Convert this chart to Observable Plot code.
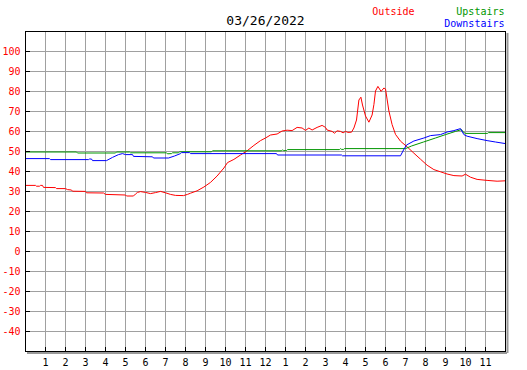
<!DOCTYPE html>
<html>
<head>
<meta charset="utf-8">
<script src="https://cdn.jsdelivr.net/npm/d3@7"></script>
<script src="https://cdn.jsdelivr.net/npm/@observablehq/plot@0.6"></script>
<style>
  html, body { margin: 0; padding: 0; background: #fff; }
</style>
</head>
<body>
<div id="chart"></div>
<script>
const title = "03/26/2022";
const seriesNames = ["Outside", "Upstairs", "Downstairs"];
const seriesColors = ["#ff0000", "#009600", "#0000ff"];

const hourTicks = [1,2,3,4,5,6,7,8,9,10,11,12,13,14,15,16,17,18,19,20,21,22,23];
const hourLabels = ["1","2","3","4","5","6","7","8","9","10","11","12","1","2","3","4","5","6","7","8","9","10","11"];
const tempTicks = [-40,-30,-20,-10,0,10,20,30,40,50,60,70,80,90,100];

const outsideHours = [0,0.5,0.55,0.7,0.75,0.85,0.9,1.5,1.55,2.0,2.1,2.3,2.35,3.0,3.05,3.9,4.0,5.0,5.05,5.4,5.5,5.6,5.75,6.0,6.25,6.5,6.75,7.0,7.25,7.5,7.9,8.1,8.25,8.58,8.92,9.25,9.58,9.92,10.1,10.42,10.75,11.08,11.42,11.75,12.0,12.25,12.58,12.83,13.08,13.33,13.58,13.83,14.0,14.17,14.33,14.58,14.83,15.0,15.08,15.33,15.45,15.58,15.75,15.88,16.0,16.12,16.3,16.42,16.55,16.67,16.77,16.85,17.0,17.17,17.33,17.42,17.5,17.62,17.78,17.92,18.0,18.1,18.17,18.33,18.5,18.75,19.08,19.42,19.75,20.08,20.42,20.75,21.08,21.42,21.83,22.0,22.25,22.58,23.08,23.58,24.0];
const outsideTemps = [33.3,33.3,32.9,32.9,33.3,33.3,32.3,32.2,31.7,31.7,31.2,31.0,30.4,30.3,29.6,29.5,28.8,28.5,28.0,28.0,29.0,29.8,30.2,29.8,29.2,29.7,30.3,29.6,28.8,28.3,28.2,28.8,29.4,30.6,32.5,34.8,38.0,42.0,44.7,46.3,48.5,50.6,53.3,55.7,57.0,58.5,59.0,60.5,60.9,60.7,62.3,62.0,60.8,62.0,61.0,62.3,63.3,62.3,61.0,60.3,59.4,60.6,60.3,59.6,60.3,59.8,59.9,62.0,66.0,76.0,77.4,73.5,68.0,64.9,68.5,73.7,80.5,82.8,80.3,82.0,81.5,75.0,70.5,63.7,58.8,55.4,52.6,49.4,46.4,43.4,41.2,40.1,39.0,38.2,38.0,38.9,37.4,36.3,35.8,35.4,35.6];

const upstairsHours = [0,2.55,2.6,4.5,4.55,5.2,5.25,7.05,7.1,7.3,7.35,7.65,7.7,9.3,9.35,12.8,12.85,12.9,13.05,13.1,15.7,15.75,15.8,15.9,15.95,19.0,19.3,19.9,20.5,21.0,21.5,21.8,21.9,22.0,23.1,23.15,24.0];
const upstairsTemps = [50.0,50.0,49.5,49.5,50.0,50.0,49.6,49.6,49.1,49.2,49.6,49.6,50.1,50.1,50.6,50.6,51.1,50.7,50.7,51.2,51.2,51.7,51.3,51.3,51.7,51.7,53.0,55.0,57.0,58.7,60.3,61.2,59.8,59.3,59.3,59.7,59.7];

const downstairsHours = [0,1.2,1.25,3.15,3.2,3.3,3.35,4.05,4.35,4.65,4.85,5.0,5.35,5.4,6.35,6.4,7.15,7.45,7.75,7.8,8.2,8.25,12.55,12.6,15.8,15.85,18.75,18.9,19.05,19.42,19.92,20.25,20.75,21.08,21.42,21.75,21.92,22.08,22.58,23.08,23.5,24.0];
const downstairsTemps = [46.7,46.7,46.2,46.2,46.5,46.5,45.7,45.7,47.3,48.7,49.2,48.7,48.7,47.8,47.6,47.0,47.0,48.0,49.2,49.7,49.7,49.2,49.2,48.5,48.5,48.1,48.1,51.0,53.5,55.5,57.0,58.2,58.7,60.0,60.7,61.7,58.7,57.9,56.7,55.7,55.0,54.2];

const toRows = (hs, ts) => hs.map((h, i) => ({hour: h, temp: ts[i]}));
const outside = toRows(outsideHours, outsideTemps);
const upstairs = toRows(upstairsHours, upstairsTemps);
const downstairs = toRows(downstairsHours, downstairsTemps);

const mono = "DejaVu Sans Mono";
const gridColor = "#a0a0a0";

const chart = Plot.plot({
  width: 527,
  height: 370,
  marginLeft: 25,
  marginRight: 22,
  marginTop: 31,
  marginBottom: 19,
  style: {fontFamily: mono, fontSize: "10px", background: "#fff", overflow: "visible"},
  x: {domain: [0, 24]},
  y: {domain: [-50, 110]},
  marks: [
    Plot.gridX(hourTicks, {stroke: gridColor, strokeOpacity: 1}),
    Plot.gridY(tempTicks, {stroke: gridColor, strokeOpacity: 1}),
    // shadow of right and bottom edges
    Plot.ruleX([24], {stroke: "#999", strokeWidth: 2, dx: 2, dy: 2}),
    Plot.ruleY([-50], {stroke: "#999", strokeWidth: 2, dx: 2, dy: 1.5}),
    Plot.lineY(outside, {x: "hour", y: "temp", stroke: seriesColors[0], strokeWidth: 1, dy: 0.5}),
    Plot.lineY(upstairs, {x: "hour", y: "temp", stroke: seriesColors[1], strokeWidth: 1, dy: 0.5}),
    Plot.lineY(downstairs, {x: "hour", y: "temp", stroke: seriesColors[2], strokeWidth: 1, dy: 0.5}),
    Plot.frame({stroke: "black", strokeWidth: 1}),
    // inward tick marks
    Plot.axisY(tempTicks, {anchor: "left", tickSize: 5, dx: 5, fill: "none", stroke: "black"}),
    Plot.axisX(hourTicks, {anchor: "bottom", tickSize: 4, dy: -4, fill: "none", stroke: "black"}),
    // labels
    Plot.axisY(tempTicks, {anchor: "left", tickSize: 0, tickPadding: 5, fill: "#ff0000", tickFormat: d => String(d), label: null}),
    Plot.axisX(hourTicks, {anchor: "bottom", tickSize: 0, tickPadding: 7, fill: "black", tickFormat: d => hourLabels[hourTicks.indexOf(d)], label: null}),
    Plot.text([title], {frameAnchor: "top", lineAnchor: "middle", dy: -11, text: d => d, fontSize: 13, fill: "black"}),
    Plot.text([seriesNames[0]], {frameAnchor: "top-right", lineAnchor: "middle", dx: -91, dy: -20, textAnchor: "end", text: d => d, fill: seriesColors[0]}),
    Plot.text([seriesNames[1]], {frameAnchor: "top-right", lineAnchor: "middle", dx: -1, dy: -20, textAnchor: "end", text: d => d, fill: seriesColors[1]}),
    Plot.text([seriesNames[2]], {frameAnchor: "top-right", lineAnchor: "middle", dx: -1, dy: -8, textAnchor: "end", text: d => d, fill: seriesColors[2]})
  ]
});
document.getElementById("chart").appendChild(chart);
</script>
</body>
</html>
